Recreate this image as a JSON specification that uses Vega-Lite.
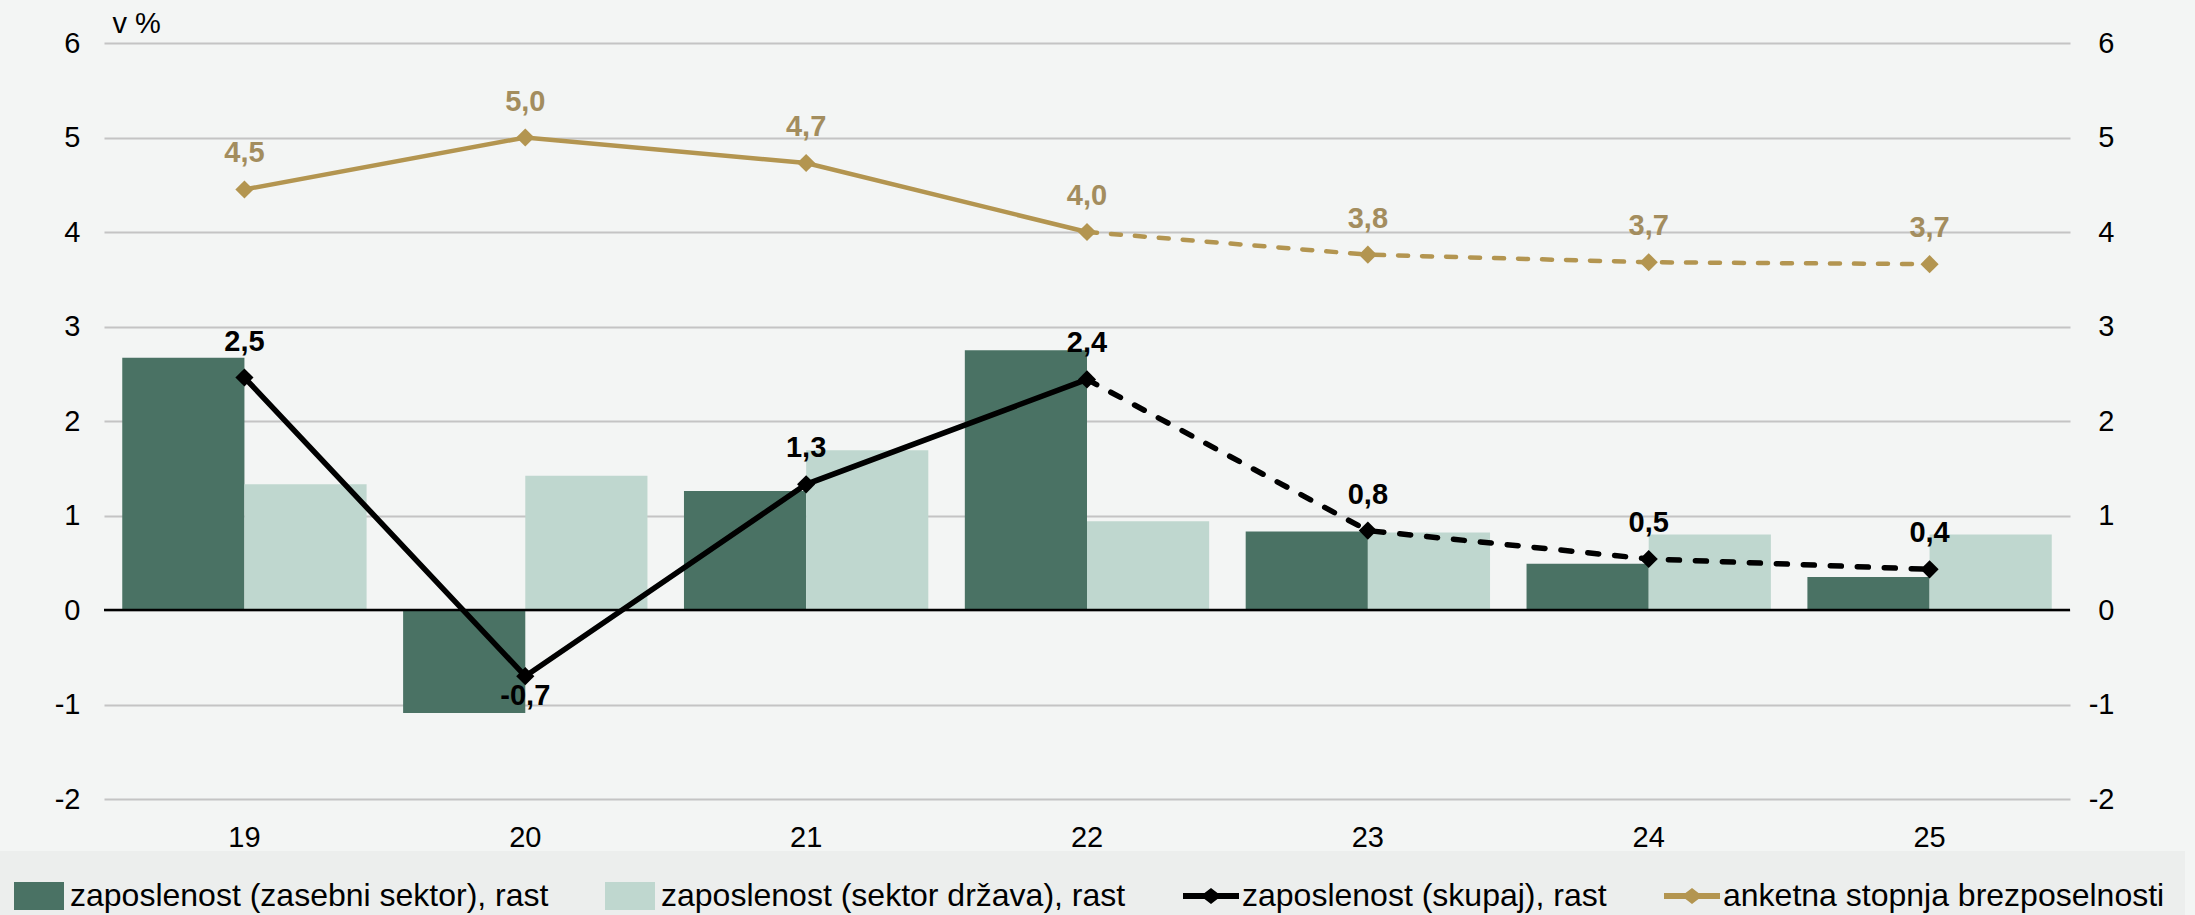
{
  "$schema": "https://vega.github.io/schema/vega-lite/v6.json",
  "width": 1966,
  "height": 756,
  "autosize": {"type": "none"},
  "padding": {"left": 104, "top": 43, "right": 125, "bottom": 116},
  "background": "#f3f5f4",
  "config": {
    "view": {"stroke": null},
    "font": "Liberation Sans",
    "locale": {"number": {"decimal": ",", "thousands": ".", "grouping": [3], "currency": ["", " €"], "minus": "-"}},
    "axis": {"labelFont": "Liberation Sans", "labelColor": "#000000", "labelFontSize": 29, "titleFont": "Liberation Sans"}
  },
  "data": {
    "values": [
      {"yr": "19", "series": "zaposlenost (zasebni sektor), rast", "value": 2.67},
      {"yr": "20", "series": "zaposlenost (zasebni sektor), rast", "value": -1.09},
      {"yr": "21", "series": "zaposlenost (zasebni sektor), rast", "value": 1.26},
      {"yr": "22", "series": "zaposlenost (zasebni sektor), rast", "value": 2.75},
      {"yr": "23", "series": "zaposlenost (zasebni sektor), rast", "value": 0.83},
      {"yr": "24", "series": "zaposlenost (zasebni sektor), rast", "value": 0.49},
      {"yr": "25", "series": "zaposlenost (zasebni sektor), rast", "value": 0.35},
      {"yr": "19", "series": "zaposlenost (sektor država), rast", "value": 1.33},
      {"yr": "20", "series": "zaposlenost (sektor država), rast", "value": 1.42},
      {"yr": "21", "series": "zaposlenost (sektor država), rast", "value": 1.69},
      {"yr": "22", "series": "zaposlenost (sektor država), rast", "value": 0.94},
      {"yr": "23", "series": "zaposlenost (sektor država), rast", "value": 0.82},
      {"yr": "24", "series": "zaposlenost (sektor država), rast", "value": 0.8},
      {"yr": "25", "series": "zaposlenost (sektor država), rast", "value": 0.8},
      {"yr": "19", "series": "zaposlenost (skupaj), rast", "value": 2.46},
      {"yr": "20", "series": "zaposlenost (skupaj), rast", "value": -0.7},
      {"yr": "21", "series": "zaposlenost (skupaj), rast", "value": 1.33},
      {"yr": "22", "series": "zaposlenost (skupaj), rast", "value": 2.44},
      {"yr": "23", "series": "zaposlenost (skupaj), rast", "value": 0.84},
      {"yr": "24", "series": "zaposlenost (skupaj), rast", "value": 0.54},
      {"yr": "25", "series": "zaposlenost (skupaj), rast", "value": 0.43},
      {"yr": "19", "series": "anketna stopnja brezposelnosti", "value": 4.45},
      {"yr": "20", "series": "anketna stopnja brezposelnosti", "value": 5.0},
      {"yr": "21", "series": "anketna stopnja brezposelnosti", "value": 4.73},
      {"yr": "22", "series": "anketna stopnja brezposelnosti", "value": 4.0},
      {"yr": "23", "series": "anketna stopnja brezposelnosti", "value": 3.76},
      {"yr": "24", "series": "anketna stopnja brezposelnosti", "value": 3.68},
      {"yr": "25", "series": "anketna stopnja brezposelnosti", "value": 3.66}
    ]
  },
  "resolve": {"scale": {"y": "independent"}, "axis": {"y": "independent"}},
  "layer": [
    {
      "layer": [
        {
          "transform": [{"filter": {"field": "series", "oneOf": ["zaposlenost (zasebni sektor), rast", "zaposlenost (sektor država), rast"]}}],
          "mark": {"type": "bar"},
          "encoding": {
            "x": {"field": "yr", "type": "nominal", "title": null, "scale": {"paddingInner": 0.13, "paddingOuter": 0.065},
                  "axis": {"labelAngle": 0, "domain": false, "ticks": false, "grid": false, "labelPadding": 24}},
            "xOffset": {"field": "series", "type": "nominal", "scale": {"domain": ["zaposlenost (zasebni sektor), rast", "zaposlenost (sektor država), rast"], "paddingInner": 0, "paddingOuter": 0}},
            "y": {"field": "value", "type": "quantitative", "scale": {"domain": [-2, 6], "nice": false, "zero": false},
                  "axis": {"orient": "left", "values": [-2, -1, 0, 1, 2, 3, 4, 5, 6], "format": "d", "grid": true, "gridColor": "#c4c4c4", "gridWidth": 2, "domain": false, "ticks": false, "labelPadding": 24,
                           "title": "v %", "titleAngle": 0, "titleAlign": "left", "titleBaseline": "middle", "titleX": 8, "titleY": -20, "titleFontSize": 29, "titleFontWeight": "normal", "titleColor": "#000000"}},
            "color": {"field": "series", "type": "nominal",
                      "scale": {"domain": ["zaposlenost (zasebni sektor), rast", "zaposlenost (sektor država), rast", "zaposlenost (skupaj), rast", "anketna stopnja brezposelnosti"],
                                "range": ["#4a7264", "#bfd7cf", "#000000", "#b39550"]},
                      "legend": {"title": null, "orient": "none", "legendX": -110, "legendY": 808, "direction": "horizontal", "fillColor": "#eceeed", "padding": 20,
                                 "labelFontSize": 32, "labelFont": "Liberation Sans", "labelColor": "#000000", "labelLimit": 1000, "labelOffset": 6, "columnPadding": 56,
                                 "symbolSize": 2500, "symbolStrokeWidth": 0, "symbolOpacity": 1}}
          }
        },
        {
          "data": {"values": [{"v": 0}]},
          "mark": {"type": "rule", "color": "#000000", "strokeWidth": 2.5},
          "encoding": {"y": {"field": "v", "type": "quantitative",
                  "axis": {"orient": "left", "values": [-2, -1, 0, 1, 2, 3, 4, 5, 6], "format": "d", "grid": true, "gridColor": "#c4c4c4", "gridWidth": 2, "domain": false, "ticks": false, "labelPadding": 24,
                           "title": "v %", "titleAngle": 0, "titleAlign": "left", "titleBaseline": "middle", "titleX": 8, "titleY": -20, "titleFontSize": 29, "titleFontWeight": "normal", "titleColor": "#000000"}}}
        }
      ]
    },
    {
      "layer": [
        {
          "transform": [
            {"filter": {"field": "series", "oneOf": ["zaposlenost (skupaj), rast", "anketna stopnja brezposelnosti"]}},
            {"filter": "toNumber(datum.yr) <= 22"}
          ],
          "mark": {"type": "line", "strokeCap": "butt"},
          "encoding": {
            "x": {"field": "yr", "type": "nominal", "title": null, "scale": {"paddingInner": 0.13, "paddingOuter": 0.065}},
            "y": {"field": "value", "type": "quantitative", "scale": {"domain": [-2, 6], "nice": false, "zero": false},
                  "axis": {"orient": "right", "values": [-2, -1, 0, 1, 2, 3, 4, 5, 6], "format": "d", "grid": false, "domain": false, "ticks": false, "labelAlign": "right", "labelPadding": 44, "title": null}},
            "stroke": {"field": "series", "type": "nominal", "scale": {"domain": ["zaposlenost (skupaj), rast", "anketna stopnja brezposelnosti"], "range": ["#000000", "#b39550"]}, "legend": null},
            "strokeWidth": {"field": "series", "type": "nominal", "scale": {"domain": ["zaposlenost (skupaj), rast", "anketna stopnja brezposelnosti"], "range": [5.5, 4.5]}, "legend": null}
          }
        },
        {
          "transform": [
            {"filter": {"field": "series", "oneOf": ["zaposlenost (skupaj), rast", "anketna stopnja brezposelnosti"]}},
            {"filter": "toNumber(datum.yr) >= 22"}
          ],
          "mark": {"type": "line", "strokeCap": "round"},
          "encoding": {
            "x": {"field": "yr", "type": "nominal", "title": null},
            "y": {"field": "value", "type": "quantitative"},
            "stroke": {"field": "series", "type": "nominal", "legend": null},
            "strokeWidth": {"field": "series", "type": "nominal", "legend": null},
            "strokeDash": {"field": "series", "type": "nominal", "scale": {"domain": ["zaposlenost (skupaj), rast", "anketna stopnja brezposelnosti"], "range": [[11, 16], [10, 14]]}, "legend": null}
          }
        },
        {
          "transform": [{"filter": {"field": "series", "oneOf": ["zaposlenost (skupaj), rast", "anketna stopnja brezposelnosti"]}}],
          "mark": {"type": "point", "filled": true, "opacity": 1, "size": 330, "shape": "diamond"},
          "encoding": {
            "x": {"field": "yr", "type": "nominal", "title": null},
            "y": {"field": "value", "type": "quantitative"},
            "color": {"field": "series", "type": "nominal", "legend": null}
          }
        },
        {
          "transform": [{"filter": "false"}],
          "mark": {"type": "point", "filled": true},
          "encoding": {
            "x": {"field": "yr", "type": "nominal", "title": null},
            "y": {"field": "value", "type": "quantitative"},
            "shape": {"field": "series", "type": "nominal",
                      "scale": {"domain": ["zaposlenost (zasebni sektor), rast", "zaposlenost (sektor država), rast", "zaposlenost (skupaj), rast", "anketna stopnja brezposelnosti"],
                                "range": ["M-1,-0.56L1,-0.56L1,0.56L-1,0.56Z", "M-1,-0.56L1,-0.56L1,0.56L-1,0.56Z",
                                          "M-1.12,-0.12L-0.26,-0.12L0,-0.32L0.26,-0.12L1.12,-0.12L1.12,0.12L0.26,0.12L0,0.32L-0.26,0.12L-1.12,0.12Z",
                                          "M-1.12,-0.12L-0.26,-0.12L0,-0.32L0.26,-0.12L1.12,-0.12L1.12,0.12L0.26,0.12L0,0.32L-0.26,0.12L-1.12,0.12Z"]},
                      "legend": {"title": null, "orient": "none", "legendX": -110, "legendY": 808, "direction": "horizontal", "fillColor": "#eceeed", "padding": 20,
                                 "labelFontSize": 32, "labelFont": "Liberation Sans", "labelColor": "#000000", "labelLimit": 1000, "labelOffset": 6, "columnPadding": 56,
                                 "symbolSize": 2500, "symbolStrokeWidth": 0, "symbolOpacity": 1}}
          }
        },
        {
          "transform": [
            {"filter": {"field": "series", "oneOf": ["zaposlenost (skupaj), rast", "anketna stopnja brezposelnosti"]}},
            {"filter": "datum.value >= 0"}
          ],
          "mark": {"type": "text", "fontWeight": "bold", "fontSize": 29, "font": "Liberation Sans", "baseline": "middle", "dy": -36},
          "encoding": {
            "x": {"field": "yr", "type": "nominal", "title": null},
            "y": {"field": "value", "type": "quantitative"},
            "text": {"field": "value", "type": "quantitative", "format": ".1f"},
            "fill": {"field": "series", "type": "nominal", "scale": {"domain": ["zaposlenost (skupaj), rast", "anketna stopnja brezposelnosti"], "range": ["#000000", "#a38d5e"]}, "legend": null}
          }
        },
        {
          "transform": [
            {"filter": {"field": "series", "oneOf": ["zaposlenost (skupaj), rast", "anketna stopnja brezposelnosti"]}},
            {"filter": "datum.value < 0"}
          ],
          "mark": {"type": "text", "fontWeight": "bold", "fontSize": 29, "font": "Liberation Sans", "baseline": "middle", "dy": 20},
          "encoding": {
            "x": {"field": "yr", "type": "nominal", "title": null},
            "y": {"field": "value", "type": "quantitative"},
            "text": {"field": "value", "type": "quantitative", "format": ".1f"},
            "fill": {"field": "series", "type": "nominal", "legend": null}
          }
        }
      ]
    }
  ]
}
